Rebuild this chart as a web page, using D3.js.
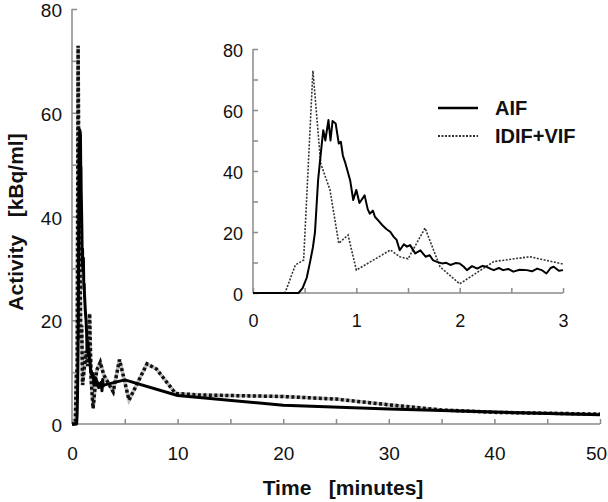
<!DOCTYPE html>
<html>
<head>
<meta charset="utf-8">
<script src="https://cdn.jsdelivr.net/npm/d3@7"></script>
<style>
body { margin: 0; background: #fff; }
text { font-family: "Liberation Sans", Arial, sans-serif; fill: #111; }
.axis path, .axis line { stroke: #8a8a8a; stroke-width: 1.5; }
.title { font-weight: bold; white-space: pre; }
</style>
</head>
<body>
<div class="chart"></div>
<script>
// arterial input function (blood samples), minutes / kBq/ml
var aifTime = [0, 0.44, 0.48, 0.52, 0.55, 0.58, 0.6, 0.63, 0.66, 0.68, 0.7, 0.73, 0.75, 0.77, 0.8, 0.83, 0.85, 0.87, 0.89,
    0.94, 0.97, 1.0, 1.03, 1.05, 1.08, 1.11, 1.13, 1.16, 1.18, 1.22, 1.25, 1.29, 1.33, 1.36, 1.39, 1.42, 1.46, 1.49, 1.52,
    1.57, 1.62, 1.67, 1.71, 1.74, 1.78, 1.83, 1.87,
    1.91, 1.96, 2.0, 2.04, 2.07, 2.12, 2.17, 2.22, 2.26, 2.3, 2.33, 2.38, 2.42, 2.47, 2.52, 2.58, 2.65, 2.7, 2.75, 2.8,
    2.84, 2.88, 2.91, 2.96, 3.0, 5, 10, 20, 30, 40, 50];
var aifValue = [0, 0, 1.6, 5, 9.8, 15, 20, 37, 47, 53.4, 50, 56.7, 50, 56.4, 55.6, 49, 49.6, 45, 43,
    37, 30.5, 33.8, 29.5, 30.5, 32, 27.5, 26, 27, 25, 23.5, 22.3, 21, 20, 18.5, 17.4, 14, 16, 15.2, 15.7,
    13, 14, 11.9, 12.4, 10.8, 10.2, 9.7, 9.9,
    9.2, 9.8, 9.7, 8.6, 7.5, 8.8, 8, 8.9, 8.6, 7.9, 7.5, 8.2, 7.5, 7.9, 7, 7.6, 7.5, 7.1, 8, 7.4,
    6.4, 8.2, 8.6, 7.3, 7.5, 8.5, 5.5, 3.6, 2.9, 2.3, 1.8];

// image-derived + venous input function
var idifTime = [0, 0.31, 0.41, 0.49, 0.58, 0.655, 0.745, 0.83, 0.92, 1.0, 1.33, 1.42, 1.5, 1.665, 1.81, 2.0, 2.33,
    2.68, 3.0, 3.9, 4.5, 5.4, 7.1, 8.0, 9.8, 12, 20, 25, 30, 35, 40, 50];
var idifValue = [0, 0, 9.2, 10.8, 72.9, 42.5, 33.8, 16.3, 19, 7.5, 14.1, 11.9, 11.2, 21.3, 8.6, 3, 10.3,
    11.9, 9.5, 6.2, 12.4, 4.6, 11.6, 10.6, 5.9, 5.6, 5.3, 4.8, 3.7, 2.7, 2.25, 1.9];

var seriesNames = ["AIF", "IDIF+VIF"];

var aif = aifTime.map(function (t, i) { return { t: t, v: aifValue[i] }; });
var idif = idifTime.map(function (t, i) { return { t: t, v: idifValue[i] }; });

var svgWidth = 608;
var svgHeight = 502;

var svg = d3.select(".chart").append("svg")
    .attr("width", svgWidth)
    .attr("height", svgHeight);

// ---------- main chart ----------
var xScale = d3.scaleLinear().domain([0, 50]).range([72, 600]);
var yScale = d3.scaleLinear().domain([0, 80]).range([424, 9]);

var xAxis = d3.axisBottom(xScale)
    .tickValues(d3.range(0, 51, 5))
    .tickSizeInner(-5).tickSizeOuter(0)
    .tickFormat(function (d) { return d % 10 === 0 ? d : ""; });
var yAxis = d3.axisLeft(yScale)
    .tickValues(d3.range(0, 81, 10))
    .tickSizeInner(-5).tickSizeOuter(0).tickPadding(10)
    .tickFormat(function (d) { return d % 20 === 0 ? d : ""; });

var gx = svg.append("g")
    .attr("class", "axis")
    .attr("transform", `translate(0,${yScale(0)})`)
    .call(xAxis);
gx.selectAll("text").attr("y", 36).attr("dy", null).style("font-size", "19px");
// last label sits against the right edge
gx.selectAll("text").filter(function (d) { return d === 50; }).attr("x", -4);

var gy = svg.append("g")
    .attr("class", "axis")
    .attr("transform", `translate(${xScale(0)},0)`)
    .call(yAxis);
gy.selectAll("text").attr("dy", "0.4em").style("font-size", "19px");
gx.select(".domain").attr("d", `M${xScale(0)},0H${xScale(50)}`);
gy.select(".domain").attr("d", `M0,${yScale(80)}V${yScale(0)}`);

var line = d3.line()
    .x(function (d) { return xScale(d.t); })
    .y(function (d) { return yScale(d.v); });

svg.append("path").datum(idif)
    .attr("d", line)
    .attr("fill", "none")
    .attr("stroke", "#bdbdbd")
    .attr("stroke-width", 3.5);
svg.append("path").datum(idif)
    .attr("d", line)
    .attr("fill", "none")
    .attr("stroke", "#111")
    .attr("stroke-width", 3.5)
    .attr("stroke-dasharray", "3,2.5");
svg.append("path").datum(aif)
    .attr("d", line)
    .attr("fill", "none")
    .attr("stroke", "#000")
    .attr("stroke-width", 3)
    .attr("stroke-linejoin", "round");

svg.append("text")
    .attr("class", "title")
    .attr("x", 343)
    .attr("y", 495)
    .attr("text-anchor", "middle")
    .style("font-size", "21px")
    .text("Time   [minutes]");

svg.append("text")
    .attr("class", "title")
    .attr("transform", `translate(23,222)rotate(-90)`)
    .attr("text-anchor", "middle")
    .style("font-size", "21px")
    .text("Activity   [kBq/ml]");

// ---------- inset ----------
var xInset = d3.scaleLinear().domain([0, 3]).range([253, 563]);
var yInset = d3.scaleLinear().domain([0, 80]).range([293, 49]);

var ixAxis = d3.axisBottom(xInset)
    .tickValues(d3.range(0, 3.01, 0.5))
    .tickSizeInner(-5).tickSizeOuter(0)
    .tickFormat(function (d) { return d % 1 === 0 ? d : ""; });
var iyAxis = d3.axisLeft(yInset)
    .tickValues(d3.range(0, 81, 10))
    .tickSizeInner(-5).tickSizeOuter(0).tickPadding(10)
    .tickFormat(function (d) { return d % 20 === 0 ? d : ""; });

var igx = svg.append("g")
    .attr("class", "axis")
    .attr("transform", `translate(0,${yInset(0)})`)
    .call(ixAxis);
igx.selectAll("text").attr("y", 34).attr("dy", null).style("font-size", "18px");
igx.select(".domain").attr("d", `M${xInset(0)},0H${xInset(3)}`);

var igy = svg.append("g")
    .attr("class", "axis")
    .attr("transform", `translate(${xInset(0)},0)`)
    .call(iyAxis);
igy.selectAll("text").attr("dy", "0.4em").style("font-size", "18px");
igy.select(".domain").attr("d", `M0,${yInset(80)}V${yInset(0)}`);

var insetLine = d3.line()
    .x(function (d) { return xInset(d.t); })
    .y(function (d) { return yInset(d.v); });

svg.append("path").datum(idif.filter(function (d) { return d.t <= 3; }))
    .attr("d", insetLine)
    .attr("fill", "none")
    .attr("stroke", "#333")
    .attr("stroke-width", 1.6)
    .attr("stroke-dasharray", "2,1.5");
svg.append("path").datum(aif.filter(function (d) { return d.t <= 3; }))
    .attr("d", insetLine)
    .attr("fill", "none")
    .attr("stroke", "#000")
    .attr("stroke-width", 2)
    .attr("stroke-linejoin", "round");

// legend
var legend = svg.append("g").attr("transform", "translate(438,108)");
seriesNames.forEach(function (name, i) {
    legend.append("line")
        .attr("x1", 0).attr("x2", 40)
        .attr("y1", i * 28).attr("y2", i * 28)
        .attr("stroke", i === 0 ? "#000" : "#333")
        .attr("stroke-width", i === 0 ? 2.5 : 1.8)
        .attr("stroke-dasharray", i === 0 ? null : "2,1.5");
    legend.append("text")
        .attr("x", 57)
        .attr("y", i * 28 + 7)
        .style("font-size", "20px")
        .style("font-weight", "bold")
        .text(name);
});
</script>
</body>
</html>
